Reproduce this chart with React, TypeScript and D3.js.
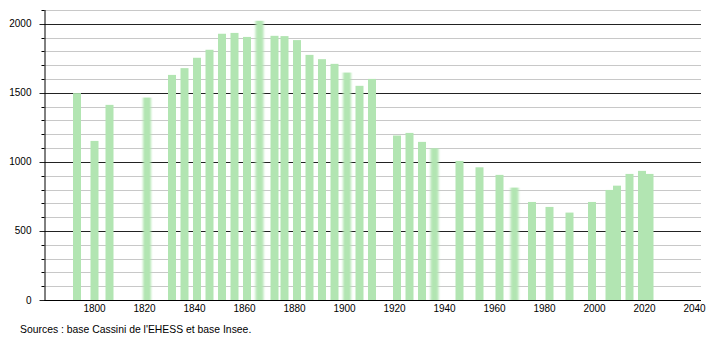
import React from "react";
import * as d3 from "d3";

const years = [1793,1800,1806,1821,1831,1836,1841,1846,1851,1856,1861,1866,1872,1876,1881,1886,1891,1896,1901,1906,1911,1921,1926,1931,1936,1946,1954,1962,1968,1975,1982,1990,1999,2006,2009,2014,2019,2022];
const population = [1498,1152,1413,1466,1630,1679,1754,1812,1928,1934,1905,2022,1913,1911,1882,1775,1744,1710,1647,1551,1601,1191,1210,1145,1099,1007,961,906,814,710,674,633,710,797,828,913,935,913];
const softYears = [1821,1866,1901,1936,1968];
const xTicks = [1800,1820,1840,1860,1880,1900,1920,1940,1960,1980,2000,2020,2040];
const yMajor = [0,500,1000,1500,2000];
const sourceText = "Sources : base Cassini de l'EHESS et base Insee.";

const W = 710, H = 340;
const FONT = "'Liberation Sans', Arial, sans-serif";

export default function App() {
  const x = d3.scaleLinear().domain([1780, 2043]).range([44.5, 702]);
  const y = d3.scaleLinear().domain([0, 2100]).range([300, 10]);
  const minor = d3.range(0, 2101, 100);
  const barW = 8;
  return (
    <svg width={W} height={H} style={{ position: "absolute", left: 0, top: 0, background: "#fff" }} fontFamily={FONT}>
      <defs>
        <filter id="soft" x="-50%" y="-5%" width="200%" height="110%">
          <feGaussianBlur stdDeviation="1.3 0.6" />
        </filter>
      </defs>
      {minor.filter(v => v % 500 !== 0).map(v => (
        <g key={"m" + v}>
          <line x1={x(1780)} x2={701} y1={Math.round(y(v)) + 0.5} y2={Math.round(y(v)) + 0.5} stroke="#c8c8c8" strokeWidth={1} />
          <line x1={x(1780) - 3} x2={x(1780)} y1={Math.round(y(v)) + 0.5} y2={Math.round(y(v)) + 0.5} stroke="#000" strokeWidth={1} />
        </g>
      ))}
      {yMajor.map(v => (
        <g key={"M" + v}>
          <line x1={x(1780) - 5} x2={701} y1={Math.round(y(v)) + 0.5} y2={Math.round(y(v)) + 0.5} stroke="#222" strokeWidth={1} />
          <text x={31.5} y={y(v) + 3.5} fontSize={10} textAnchor="end" fill="#000">{v}</text>
        </g>
      ))}
      {years.map((yr, i) => (
        <rect key={yr} x={x(yr) - barW / 2} y={y(population[i])} width={barW} height={y(0) - y(population[i])}
          fill="#b2e5b2" filter={softYears.includes(yr) ? "url(#soft)" : undefined} />
      ))}
      <line x1={x(1780)} x2={701} y1={y(0) + 0.5} y2={y(0) + 0.5} stroke="#000" strokeWidth={1} />
      <line x1={x(1780) + 0.5} x2={x(1780) + 0.5} y1={y(2100)} y2={y(0) + 1} stroke="#000" strokeWidth={1} />
      {xTicks.map(t => (
        <text key={t} x={x(t)} y={312} fontSize={10} textAnchor="middle" fill="#000">{t}</text>
      ))}
      <text x={20} y={333} fontSize={10.4} fill="#000">{sourceText}</text>
    </svg>
  );
}
